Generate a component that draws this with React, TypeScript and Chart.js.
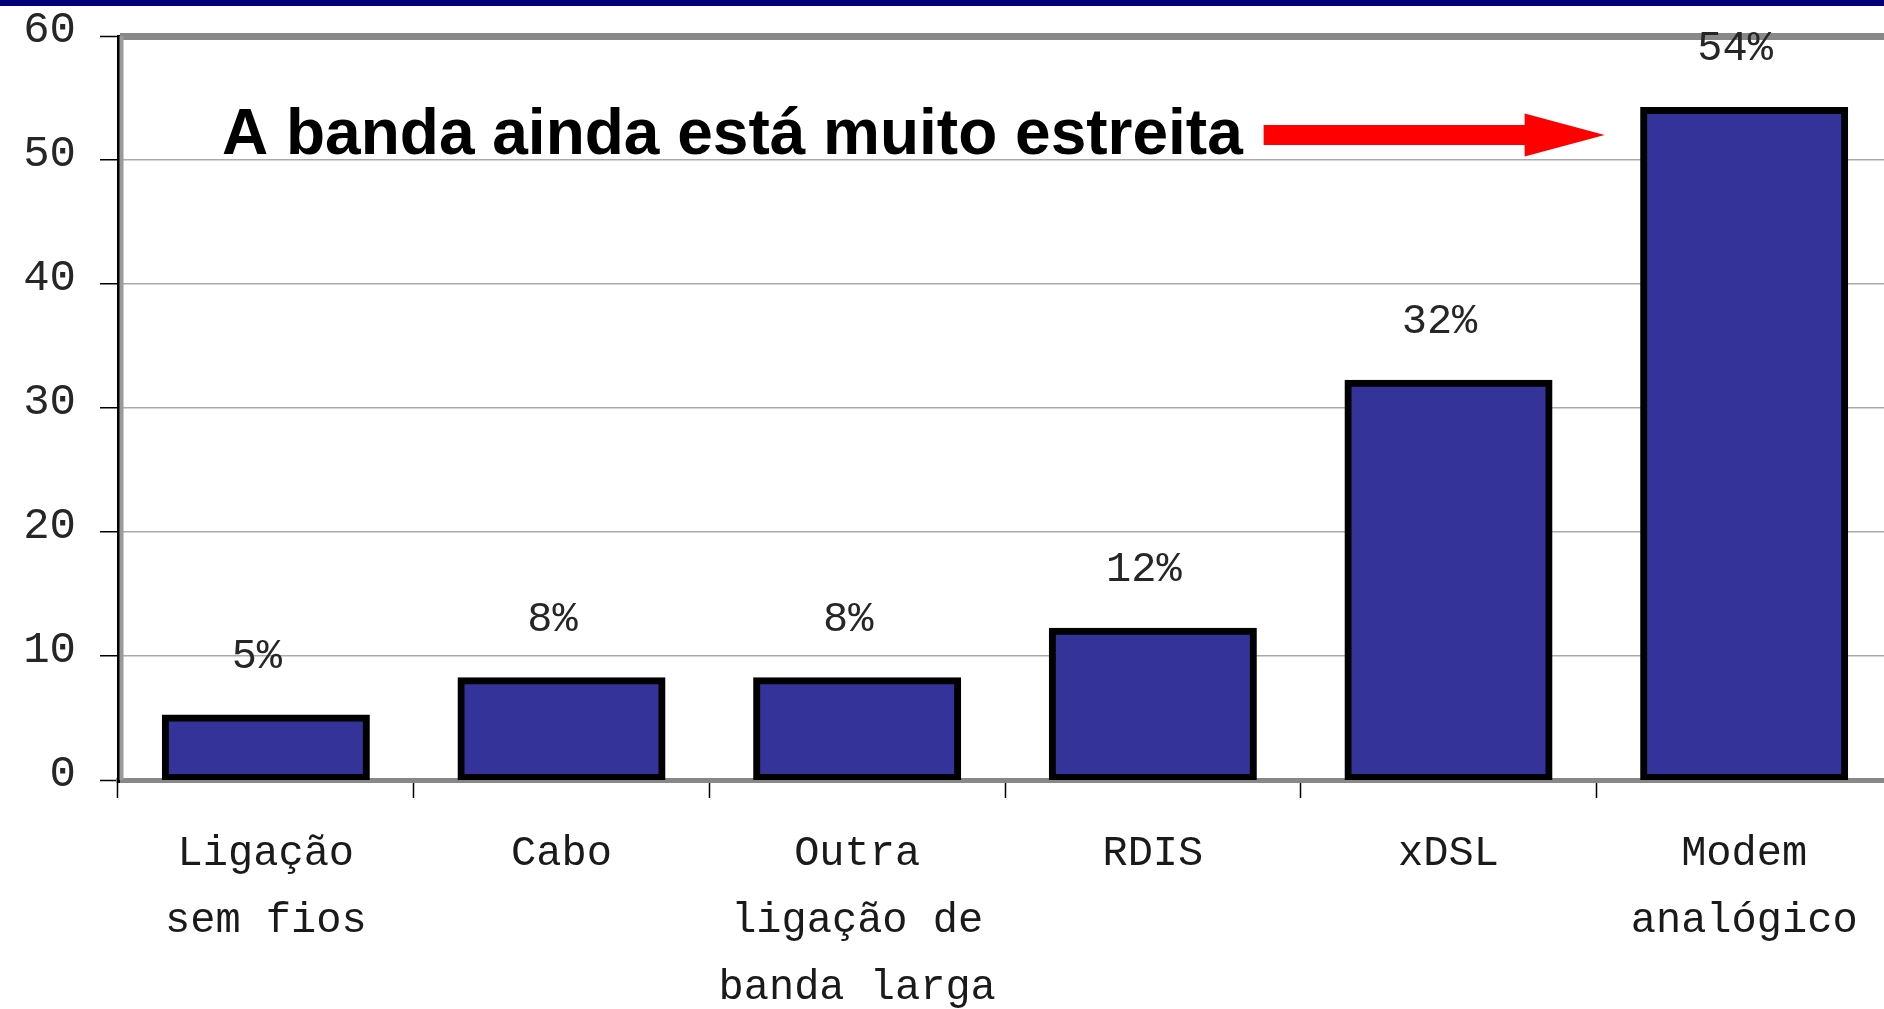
import React, { useEffect, useRef } from "react";
import { Chart, registerables } from "chart.js";

Chart.register(...registerables);

const categories: string[][] = [
  ["Ligação", "sem fios"],
  ["Cabo"],
  ["Outra", "ligação de", "banda larga"],
  ["RDIS"],
  ["xDSL"],
  ["Modem", "analógico"],
];
const shares: number[] = [5, 8, 8, 12, 32, 54];
const yMin = 0;
const yMax = 60;
const yStep = 10;
const headline = "A banda ainda está muito estreita";

const MONO = "'Liberation Mono', 'DejaVu Sans Mono', monospace";

const decorPlugin = {
  id: "decor",
  beforeDraw(chart: any) {
    const { ctx, width, height } = chart;
    ctx.save();
    ctx.fillStyle = "#ffffff";
    ctx.fillRect(0, 0, width, height);
    ctx.fillStyle = "#000078";
    ctx.fillRect(0, 0, width, 6);
    ctx.restore();
  },
  beforeDatasetsDraw(chart: any) {
    const { ctx, chartArea } = chart;
    ctx.save();
    ctx.strokeStyle = "#9a9a9a";
    ctx.lineWidth = 4;
    ctx.beginPath();
    ctx.moveTo(chartArea.left + 3.5, chartArea.top);
    ctx.lineTo(chartArea.left + 3.5, chartArea.bottom);
    ctx.stroke();
    ctx.restore();
  },
  afterDatasetsDraw(chart: any) {
    const { ctx } = chart;
    const meta = chart.getDatasetMeta(0);
    ctx.save();
    ctx.font = `42px ${MONO}`;
    ctx.textAlign = "center";
    ctx.textBaseline = "alphabetic";
    ctx.fillStyle = "#262626";
    meta.data.forEach((bar: any, i: number) => {
      ctx.fillText(`${shares[i]}%`, bar.x - 9, bar.y - 50);
    });

    // headline annotation
    ctx.font = "bold 64px 'Liberation Sans', Arial, sans-serif";
    ctx.textAlign = "left";
    ctx.fillStyle = "#000000";
    ctx.fillText(headline, 222, 154);

    // red arrow pointing to the last bar
    const last = meta.data[meta.data.length - 1];
    const tipX = last.x - last.width / 2 - 39;
    const tipY = 135;
    const headLen = 80;
    const headHalf = 21.5;
    const shaftHalf = 10;
    const shaftStart = tipX - 341;
    ctx.fillStyle = "#ff0000";
    ctx.beginPath();
    ctx.moveTo(shaftStart, tipY - shaftHalf);
    ctx.lineTo(tipX - headLen, tipY - shaftHalf);
    ctx.lineTo(tipX - headLen, tipY - headHalf);
    ctx.lineTo(tipX, tipY);
    ctx.lineTo(tipX - headLen, tipY + headHalf);
    ctx.lineTo(tipX - headLen, tipY + shaftHalf);
    ctx.lineTo(shaftStart, tipY + shaftHalf);
    ctx.closePath();
    ctx.fill();
    ctx.restore();
  },
};

export default function App() {
  const canvasRef = useRef<HTMLCanvasElement | null>(null);

  useEffect(() => {
    if (!canvasRef.current) return;
    const chart = new Chart(canvasRef.current, {
      type: "bar",
      data: {
        labels: categories,
        datasets: [
          {
            data: shares,
            backgroundColor: "#333399",
            borderColor: "#000000",
            borderWidth: 7,
            borderSkipped: false,
            inflateAmount: 3.5,
            barPercentage: 0.68,
            categoryPercentage: 1,
          } as any,
        ],
      },
      options: {
        responsive: false,
        animation: false,
        devicePixelRatio: 1,
        layout: { padding: { top: 36, right: 8, bottom: 0, left: 0 } },
        plugins: {
          legend: { display: false },
          tooltip: { enabled: false },
          title: { display: false },
        },
        scales: {
          x: {
            offset: true,
            afterFit: (scale: any) => {
              scale.height = 229;
              scale.paddingLeft = 0;
              scale.paddingRight = 0;
            },
            border: { display: true, color: "#888888", width: 5 },
            grid: {
              display: true,
              drawOnChartArea: false,
              drawTicks: true,
              offset: true,
              tickLength: 18,
              tickColor: "#000000",
              tickWidth: 1.5,
            },
            ticks: {
              autoSkip: false,
              maxRotation: 0,
              minRotation: 0,
              padding: 22,
              color: "#1a1a1a",
              font: { family: MONO, size: 42, lineHeight: 1.6 },
            },
          },
          y: {
            min: yMin,
            max: yMax,
            afterFit: (scale: any) => {
              scale.width = 118;
              scale.paddingTop = 0;
              scale.paddingBottom = 0;
            },
            border: { display: true, color: "#000000", width: 3 },
            grid: {
              color: (c: any) =>
                c.tick && (c.tick.value === yMax || c.tick.value === yMin) ? "#888888" : "#aaaaaa",
              lineWidth: (c: any) =>
                c.tick && c.tick.value === yMax ? 7 : c.tick && c.tick.value === yMin ? 5 : 1.5,
              drawTicks: true,
              tickLength: 18,
              tickColor: "#000000",
              tickWidth: 1.5,
            },
            ticks: {
              stepSize: yStep,
              padding: 24,
              labelOffset: -6,
              color: "#262626",
              font: { family: MONO, size: 44 },
            },
          },
        },
      },
      plugins: [decorPlugin],
    });
    return () => chart.destroy();
  }, []);

  return (
    <div
      style={{
        position: "fixed",
        left: 0,
        top: 0,
        width: 1884,
        height: 1009,
        overflow: "hidden",
        background: "#ffffff",
      }}
    >
      <canvas ref={canvasRef} width={1900} height={1009} style={{ display: "block" }} />
    </div>
  );
}
